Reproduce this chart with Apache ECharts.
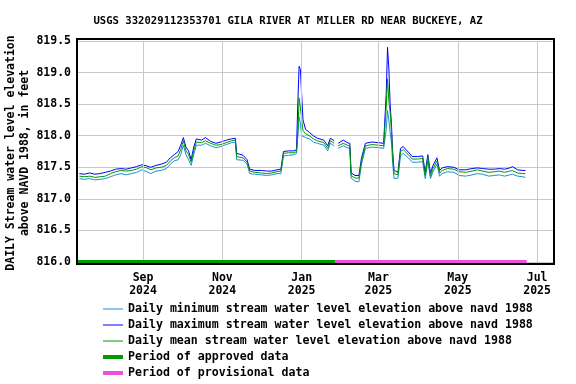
<!DOCTYPE html>
<html><head><meta charset="utf-8">
<script src="https://cdn.jsdelivr.net/npm/echarts@6/dist/echarts.min.js"></script>
<style>html,body{margin:0;padding:0;background:#fff}#c{width:576px;height:384px}</style>
</head><body><div id="c"></div>
<script>
const titleText = 'USGS 332029112353701 GILA RIVER AT MILLER RD NEAR BUCKEYE, AZ';
const yTitle = 'DAILY Stream water level elevation\nabove NAVD 1988, in feet';
const seriesNames = ['Daily minimum stream water level elevation above navd 1988','Daily maximum stream water level elevation above navd 1988','Daily mean stream water level elevation above navd 1988','Period of approved data','Period of provisional data'];
const dates = ['2024-07-14','2024-07-18','2024-07-22','2024-07-26','2024-07-30','2024-08-03','2024-08-07','2024-08-11','2024-08-15','2024-08-19','2024-08-23','2024-08-27','2024-08-31','2024-09-04','2024-09-07','2024-09-11','2024-09-15','2024-09-19','2024-09-22','2024-09-25','2024-09-28','2024-09-30','2024-10-02','2024-10-04','2024-10-06','2024-10-08','2024-10-10','2024-10-12','2024-10-16','2024-10-19','2024-10-23','2024-10-27','2024-10-31','2024-11-04','2024-11-08','2024-11-11','2024-11-12','2024-11-17','2024-11-20','2024-11-22','2024-11-26','2024-12-01','2024-12-05','2024-12-09','2024-12-13','2024-12-16','2024-12-18','2024-12-22','2024-12-26','2024-12-28','2024-12-29','2024-12-30','2024-12-31','2025-01-01','2025-01-02','2025-01-04','2025-01-07','2025-01-10','2025-01-13','2025-01-18','2025-01-21','2025-01-23','2025-01-26','2025-01-28','2025-01-29','2025-02-02','2025-02-05','2025-02-07','2025-02-08','2025-02-11','2025-02-14','2025-02-16','2025-02-19','2025-02-24','2025-03-01','2025-03-05','2025-03-07','2025-03-08','2025-03-09','2025-03-10','2025-03-11','2025-03-12','2025-03-13','2025-03-16','2025-03-18','2025-03-20','2025-03-24','2025-03-27','2025-03-31','2025-04-04','2025-04-06','2025-04-08','2025-04-10','2025-04-12','2025-04-15','2025-04-17','2025-04-19','2025-04-23','2025-04-28','2025-05-02','2025-05-07','2025-05-12','2025-05-16','2025-05-20','2025-05-25','2025-05-29','2025-06-02','2025-06-06','2025-06-10','2025-06-12','2025-06-16','2025-06-20','2025-06-22'];
const minVals = [817.32,817.31,817.32,817.30,817.31,817.32,817.35,817.38,817.40,817.38,817.40,817.42,817.46,817.43,817.40,817.44,817.45,817.48,817.55,817.60,817.62,817.70,817.85,817.70,817.62,817.53,817.70,817.85,817.85,817.88,817.84,817.81,817.83,817.86,817.89,817.90,817.62,817.61,817.55,817.40,817.39,817.38,817.37,817.38,817.40,817.40,817.68,817.69,817.70,817.72,817.75,818.30,818.20,818.00,817.98,817.97,817.95,817.90,817.88,817.85,817.76,817.88,817.84,null,817.80,817.84,817.81,817.80,817.33,817.28,817.27,817.55,817.80,817.82,817.81,817.80,818.10,818.40,818.25,818.05,817.90,817.55,817.32,817.33,817.68,817.72,817.65,817.58,817.58,817.59,817.32,817.60,817.32,817.43,817.55,817.36,817.40,817.43,817.42,817.37,817.36,817.38,817.40,817.39,817.36,817.37,817.38,817.36,817.38,817.39,817.36,817.35,817.34];
const meanVals = [817.36,817.35,817.36,817.34,817.35,817.36,817.40,817.43,817.45,817.44,817.45,817.47,817.51,817.49,817.46,817.49,817.50,817.53,817.60,817.65,817.68,817.78,817.92,817.76,817.70,817.58,817.76,817.90,817.89,817.92,817.88,817.85,817.86,817.89,817.92,817.93,817.67,817.65,817.58,817.44,817.42,817.41,817.40,817.41,817.43,817.44,817.72,817.73,817.73,817.75,818.00,818.60,818.45,818.25,818.08,818.03,818.00,817.95,817.92,817.89,817.80,817.92,817.88,null,817.84,817.88,817.85,817.84,817.37,817.33,817.33,817.60,817.84,817.86,817.85,817.84,818.45,818.90,818.55,818.37,818.08,817.68,817.40,817.38,817.75,817.78,817.70,817.63,817.63,817.64,817.37,817.66,817.36,817.48,817.60,817.41,817.45,817.48,817.47,817.43,817.42,817.44,817.46,817.44,817.42,817.43,817.44,817.42,817.44,817.45,817.41,817.40,817.40];
const maxVals = [817.40,817.39,817.41,817.39,817.40,817.42,817.44,817.47,817.48,817.47,817.49,817.51,817.54,817.52,817.50,817.53,817.55,817.58,817.65,817.70,817.75,817.85,817.97,817.82,817.76,817.62,817.82,817.95,817.93,817.97,817.91,817.88,817.90,817.93,817.95,817.96,817.72,817.69,817.62,817.47,817.45,817.45,817.44,817.44,817.46,817.47,817.75,817.76,817.76,817.78,818.50,819.10,819.05,818.65,818.25,818.10,818.05,818.00,817.96,817.93,817.84,817.96,817.92,null,817.88,817.93,817.89,817.88,817.41,817.37,817.37,817.65,817.88,817.90,817.89,817.88,818.67,819.40,819.07,818.50,818.19,817.73,817.45,817.42,817.80,817.83,817.74,817.67,817.67,817.68,817.42,817.70,817.41,817.53,817.65,817.45,817.49,817.51,817.50,817.46,817.46,817.48,817.49,817.48,817.47,817.47,817.48,817.47,817.49,817.51,817.46,817.45,817.45];
const approvedPeriod = ['2024-07-13','2025-01-27'];
const provisionalPeriod = ['2025-01-27','2025-06-23'];
const xTickDates = ['2024-09-01','2024-11-01','2025-01-01','2025-03-01','2025-05-01','2025-07-01'];
const xRange = ['2024-07-13','2025-07-14'];
const yMin = 816.0, yMax = 819.5, yStep = 0.5;

const ts = s => Date.parse(s + 'T00:00:00Z');
const MON = ['Jan','Feb','Mar','Apr','May','Jun','Jul','Aug','Sep','Oct','Nov','Dec'];
const pair = vals => dates.map((d, i) => [ts(d), vals[i]]);
const FONT = 'DejaVu Sans Mono';
const txt = {fontFamily: FONT, fontWeight: 'bold', fontSize: 11.5, color: '#000'};
const thin = 'path://M0,0H20V1H0Z', thick = 'path://M0,0H20V4H0Z';

const chart = echarts.init(document.getElementById('c'), null, {renderer: 'canvas'});
chart.setOption({
  animation: false,
  backgroundColor: '#fff',
  title: {text: titleText, left: 'center', top: 11, textStyle: {fontFamily: FONT, fontWeight: 'bold', fontSize: 10.6, color: '#000'}},
  grid: {left: 78, right: 22, top: 41, height: 221, containLabel: false, outerBoundsMode: 'none'},
  xAxis: {
    type: 'value', min: ts(xRange[0]), max: ts(xRange[1]),
    axisLine: {show: false}, axisTick: {show: false}, splitLine: {show: false},
    axisLabel: Object.assign({}, txt, {
      customValues: xTickDates.map(ts), margin: 10, lineHeight: 13,
      formatter: v => { const d = new Date(v); return MON[d.getUTCMonth()] + '\n' + d.getUTCFullYear(); }
    })
  },
  yAxis: {
    type: 'value', min: yMin, max: yMax, interval: yStep,
    axisLine: {show: false}, axisTick: {show: false},
    splitLine: {show: true, lineStyle: {color: '#c8c8c8', width: 1}},
    axisLabel: Object.assign({}, txt, {margin: 7, formatter: v => v.toFixed(1)})
  },
  legend: {
    orient: 'vertical', left: 103, top: 303, padding: 0, itemWidth: 20, itemHeight: 12, itemGap: 4,
    textStyle: Object.assign({}, txt, {lineHeight: 12, fontSize: 11.6}),
    data: seriesNames.map((n, i) => ({name: n, icon: i < 3 ? thin : thick})), selectedMode: false
  },
  series: [
    {type: 'line', name: '_grid', data: [], z: 1, silent: true,
     markLine: {silent: true, symbol: ['none','none'], label: {show: false}, animation: false,
       lineStyle: {color: '#c8c8c8', type: 'solid', width: 1},
       data: xTickDates.map(d => ({xAxis: ts(d)}))}},
    {type: 'line', name: seriesNames[0], data: pair(minVals), symbol: 'none', z: 3,
     lineStyle: {color: '#1e8fd6', width: 1}, itemStyle: {color: '#1e8fd6'}},
    {type: 'line', name: seriesNames[1], data: pair(maxVals), symbol: 'none', z: 3,
     lineStyle: {color: '#0000ff', width: 1}, itemStyle: {color: '#0000ff'}},
    {type: 'line', name: seriesNames[2], data: pair(meanVals), symbol: 'none', z: 4,
     lineStyle: {color: '#009900', width: 1}, itemStyle: {color: '#009900'}},
    {type: 'line', name: seriesNames[3], data: approvedPeriod.map(d => [ts(d), yMin]), symbol: 'none', clip: false, z: 5,
     lineStyle: {color: '#009900', width: 4}, itemStyle: {color: '#009900'}},
    {type: 'line', name: seriesNames[4], data: provisionalPeriod.map(d => [ts(d), yMin]), symbol: 'none', clip: false, z: 5,
     lineStyle: {color: '#ee4fdd', width: 4}, itemStyle: {color: '#ee4fdd'}}
  ],
  graphic: [
    {type: 'rect', z: 100, silent: true, shape: {x: 77, y: 39, width: 477, height: 225},
     style: {fill: 'none', stroke: '#000', lineWidth: 2}},
    {type: 'text', z: 100, silent: true, x: 18, y: 153, rotation: Math.PI / 2,
     style: {text: yTitle, align: 'center', verticalAlign: 'middle', lineHeight: 13.5,
       font: 'bold 11.5px "DejaVu Sans Mono"', fill: '#000'}}
  ]
});
</script></body></html>
